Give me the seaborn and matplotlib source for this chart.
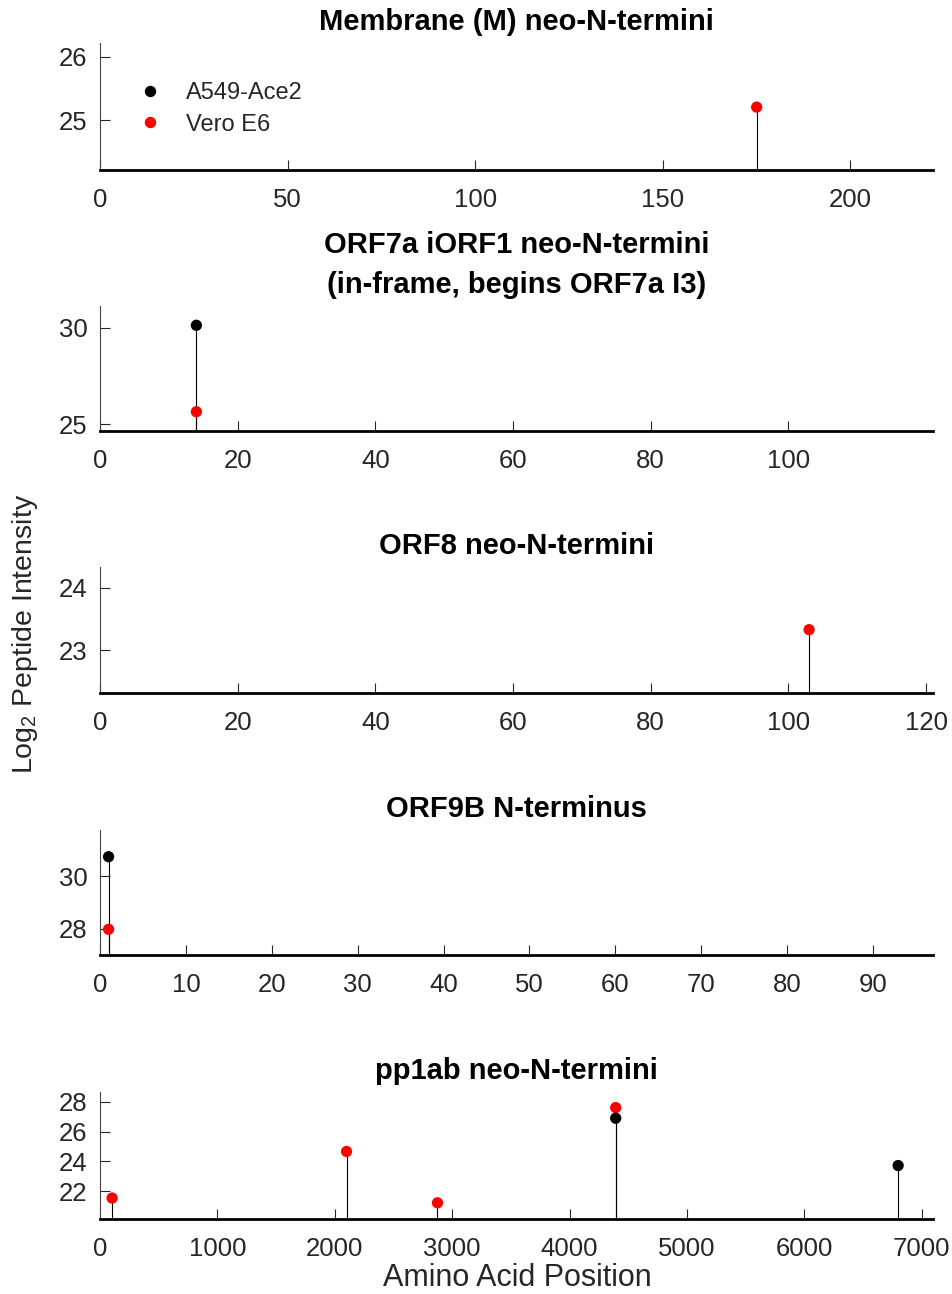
import numpy as np
import pandas as pd
import seaborn as sns
import matplotlib.pyplot as plt
from matplotlib.lines import Line2D

# --- data ---
CELL_LINES = ["A549-Ace2", "Vero E6"]
COLORS = {"A549-Ace2": "#000000", "Vero E6": "#ff0000"}

TITLES = [
    "Membrane (M) neo-N-termini",
    "ORF7a iORF1 neo-N-termini\n(in-frame, begins ORF7a I3)",
    "ORF8 neo-N-termini",
    "ORF9B N-terminus",
    "pp1ab neo-N-termini",
]
PROTEIN_LENGTH = [222, 121, 121, 97, 7096]

m_vero_pos = [175]
m_vero_int = [25.21]

orf7a_a549_pos = [14]
orf7a_a549_int = [30.12]
orf7a_vero_pos = [14]
orf7a_vero_int = [25.64]

orf8_vero_pos = [103]
orf8_vero_int = [23.33]

orf9b_a549_pos = [1]
orf9b_a549_int = [30.75]
orf9b_vero_pos = [1]
orf9b_vero_int = [27.98]

pp1ab_a549_pos = [4393, 6799]
pp1ab_a549_int = [26.89, 23.73]
pp1ab_vero_pos = [103, 2100, 2875, 4393]
pp1ab_vero_int = [21.56, 24.67, 21.24, 27.60]

X_TICKS = [np.arange(0, 201, 50), np.arange(0, 101, 20), np.arange(0, 121, 20),
           np.arange(0, 91, 10), np.arange(0, 7001, 1000)]
Y_TICKS = [[25, 26], [25, 30], [23, 24], [28, 30], [22, 24, 26, 28]]
Y_LIMS = [(24.22, 26.22), (24.64, 31.12), (22.32, 24.33), (27.0, 31.77), (20.16, 28.64)]


def frame(a549_pos, a549_int, vero_pos, vero_int):
    rows = []
    # Vero first so the A549 markers sit on top where they overlap
    for p, v in zip(vero_pos, vero_int):
        rows.append({"pos": p, "val": v, "line": "Vero E6"})
    for p, v in zip(a549_pos, a549_int):
        rows.append({"pos": p, "val": v, "line": "A549-Ace2"})
    return pd.DataFrame(rows)


panels = [
    frame([], [], m_vero_pos, m_vero_int),
    frame(orf7a_a549_pos, orf7a_a549_int, orf7a_vero_pos, orf7a_vero_int),
    frame([], [], orf8_vero_pos, orf8_vero_int),
    frame(orf9b_a549_pos, orf9b_a549_int, orf9b_vero_pos, orf9b_vero_int),
    frame(pp1ab_a549_pos, pp1ab_a549_int, pp1ab_vero_pos, pp1ab_vero_int),
]

sns.set_theme(style="ticks")
plt.rcParams.update({
    "font.family": ["Liberation Sans", "DejaVu Sans"],
    "mathtext.fontset": "custom",
    "mathtext.rm": "Liberation Sans",
    "xtick.direction": "in",
    "ytick.direction": "in",
    "axes.edgecolor": "#262626",
})

W, H = 952, 1294
fig = plt.figure(figsize=(W / 100, H / 100), dpi=100)

# axes boxes in pixels: (top, bottom)
boxes = [(43, 170), (306, 431), (567, 693), (830, 955), (1092, 1219)]
left, right = 100, 933

for i, (df, (top, bot)) in enumerate(zip(panels, boxes)):
    ax = fig.add_axes([left / W, 1 - bot / H, (right - left) / W, (bot - top) / H])
    lo, hi = Y_LIMS[i]
    ax.vlines(df["pos"], lo, df["val"], color="black", linewidth=0.8, zorder=1)
    sns.scatterplot(data=df, x="pos", y="val", hue="line", palette=COLORS,
                    s=66, edgecolor="none", legend=False, ax=ax, zorder=3)
    ax.set_xlim(0, PROTEIN_LENGTH[i])
    ax.set_ylim(lo, hi)
    ax.set_xticks(X_TICKS[i])
    ax.set_yticks(Y_TICKS[i])
    ax.set_xlabel("")
    ax.set_ylabel("")
    ax.set_title(TITLES[i], fontsize=21, fontweight="bold", color="black", pad=9.5,
                 linespacing=1.55)
    ax.tick_params(axis="x", length=7, width=0.8, pad=13, labelsize=18.5,
                   colors="#262626")
    ax.tick_params(axis="y", length=7, width=0.8, pad=9, labelsize=18.5,
                   colors="#262626")
    sns.despine(ax=ax)
    ax.spines["left"].set_color("#444444")
    ax.spines["left"].set_linewidth(0.8)
    ax.spines["bottom"].set_color("black")
    ax.spines["bottom"].set_linewidth(2.0)

    if i == 0:
        handles = [Line2D([], [], marker="o", linestyle="none", markersize=8.2,
                          markerfacecolor=COLORS[c], markeredgecolor="none")
                   for c in CELL_LINES]
        ax.legend(handles, CELL_LINES, loc="center left", bbox_to_anchor=(0.02, 0.48),
                  frameon=False, fontsize=17, handletextpad=0.55, labelspacing=0.4,
                  borderaxespad=0)

fig.text(25 / W, 1 - 634 / H, r"Log$_\mathregular{2}$ Peptide Intensity",
         rotation=90, ha="center", va="center", fontsize=20.5, color="#262626")
fig.text(517 / W, 1 - 1278 / H, "Amino Acid Position", ha="center", va="center",
         fontsize=22, color="#262626")

fig.savefig("out.png", dpi=100)
